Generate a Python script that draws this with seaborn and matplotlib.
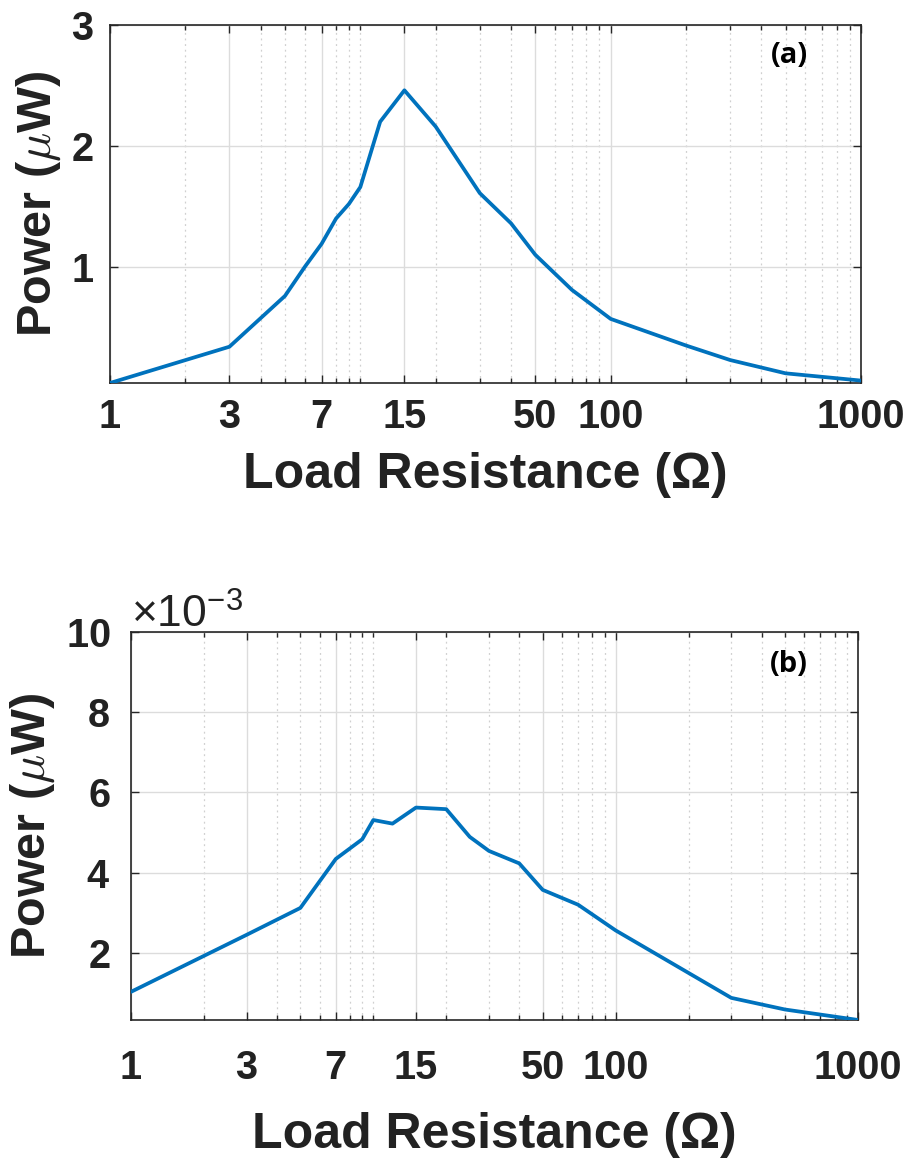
import numpy as np
import pandas as pd
import matplotlib
matplotlib.use("Agg")
import matplotlib.pyplot as plt
from matplotlib import font_manager
from matplotlib.ticker import FixedLocator, FixedFormatter, NullFormatter, ScalarFormatter
import seaborn as sns

# ---------------- data ----------------
resistance_a = [1, 3, 5, 6, 7, 8, 9, 10, 12, 15, 20, 30, 40, 50, 70, 100, 200, 300, 500, 1000]
power_a = [0.04, 0.34, 0.76, 1.00, 1.19, 1.40, 1.52, 1.66, 2.20, 2.46, 2.16, 1.61, 1.36, 1.10,
           0.81, 0.57, 0.35, 0.23, 0.12, 0.06]

resistance_b = [1, 3, 5, 7, 9, 10, 12, 15, 20, 25, 30, 40, 50, 70, 100, 300, 500, 1000]
power_b = [1.03e-3, 2.45e-3, 3.12e-3, 4.34e-3, 4.83e-3, 5.31e-3, 5.22e-3, 5.62e-3, 5.58e-3,
           4.89e-3, 4.54e-3, 4.23e-3, 3.57e-3, 3.20e-3, 2.56e-3, 0.88e-3, 0.59e-3, 0.33e-3]

x_ticks = [1, 3, 7, 15, 50, 100, 1000]
x_tick_labels = ["1", "3", "7", "15", "50", "100", "1000"]
x_minor = [2, 4, 5, 6, 8, 9, 10, 20, 30, 40, 60, 70, 80, 90,
           200, 300, 400, 500, 600, 700, 800, 900]
y_ticks_a = [1, 2, 3]
y_ticks_b = [2e-3, 4e-3, 6e-3, 8e-3, 10e-3]
panel_labels = ["(a)", "(b)"]

# ---------------- style ----------------
sns.set_theme(style="white")


def has_font(name):
    try:
        font_manager.findfont(font_manager.FontProperties(family=name), fallback_to_default=False)
        return True
    except Exception:
        return False


main_font = "Liberation Sans Narrow" if has_font("Liberation Sans Narrow") else "Liberation Sans"
plt.rcParams["font.family"] = [main_font, "DejaVu Sans"]
plt.rcParams["mathtext.fontset"] = "custom"
plt.rcParams["mathtext.rm"] = main_font
plt.rcParams["mathtext.it"] = main_font + ":italic"
plt.rcParams["mathtext.bf"] = main_font + ":bold"

LINE_COLOR = "#0072BD"
SPINE_COLOR = "#262626"
TEXT_COLOR = "#222222"
TICK_FS = 28.5
LABEL_FS = 36

fig = plt.figure(figsize=(9.12, 11.67), dpi=100)
ax1 = fig.add_axes([0.1206, 0.6718, 0.8235, 0.3068])
ax2 = fig.add_axes([0.1436, 0.1260, 0.7972, 0.3327])

df_a = pd.DataFrame({"R": resistance_a, "P": power_a})
df_b = pd.DataFrame({"R": resistance_b, "P": power_b})

settings = [
    (ax1, df_a, y_ticks_a, panel_labels[0], 11, 12, 11),
    (ax2, df_b, y_ticks_b, panel_labels[1], 21, 15, 18),
]

for ax, df, yt, lab, xpad, ypad, xlabpad in settings:
    sns.lineplot(data=df, x="R", y="P", ax=ax, color=LINE_COLOR, linewidth=2.7,
                 estimator=None, sort=False, zorder=5)
    ax.set_xscale("log")
    ax.set_xlim(1, 1000)
    ax.set_ylim(min(df["P"]), max(yt))
    ax.xaxis.set_major_locator(FixedLocator(x_ticks))
    ax.xaxis.set_major_formatter(FixedFormatter(x_tick_labels))
    ax.xaxis.set_minor_locator(FixedLocator(x_minor))
    ax.xaxis.set_minor_formatter(NullFormatter())
    ax.yaxis.set_major_locator(FixedLocator(yt))
    ax.set_facecolor("white")

    ax.grid(True, which="major", axis="both", color="#dcdcdc", linestyle="-", linewidth=1.0, zorder=0)
    ax.grid(True, which="minor", axis="x", color="#d0d0d0", linestyle=(0, (1.5, 3)), linewidth=0.9, zorder=0)

    ax.tick_params(which="both", direction="in", top=True, right=True, bottom=True, left=True,
                   colors=SPINE_COLOR, width=1.0)
    ax.tick_params(which="major", length=6, labelsize=TICK_FS)
    ax.tick_params(axis="x", which="major", pad=xpad)
    ax.tick_params(axis="y", which="major", pad=ypad)
    ax.tick_params(which="minor", length=3.5)
    for sp in ax.spines.values():
        sp.set_visible(True)
        sp.set_color(SPINE_COLOR)
        sp.set_linewidth(1.2)

    ax.set_xlabel("Load Resistance (Ω)", fontsize=LABEL_FS, fontweight="bold", color=TEXT_COLOR,
                  labelpad=xlabpad)
    ax.set_ylabel(r"Power ($\mu$W)", fontsize=35, fontweight="bold", color=TEXT_COLOR,
                  labelpad=6, math_fontfamily="cm")
    ax.text(0.905, 0.915, lab, transform=ax.transAxes, ha="center", va="center",
            fontsize=21, fontweight="bold", family=["Open Sans", "DejaVu Sans"], color="black", zorder=6)

fmt = ScalarFormatter(useMathText=True)
fmt.set_powerlimits((-3, -3))
ax2.yaxis.set_major_formatter(fmt)

for ax in (ax1, ax2):
    for lbl in ax.get_xticklabels() + ax.get_yticklabels():
        lbl.set_fontweight("bold")
        lbl.set_color(TEXT_COLOR)

ax2.yaxis.get_offset_text().set_fontsize(32)
ax2.yaxis.get_offset_text().set_color(TEXT_COLOR)

fig.savefig("out.png", dpi=100, facecolor="white")
